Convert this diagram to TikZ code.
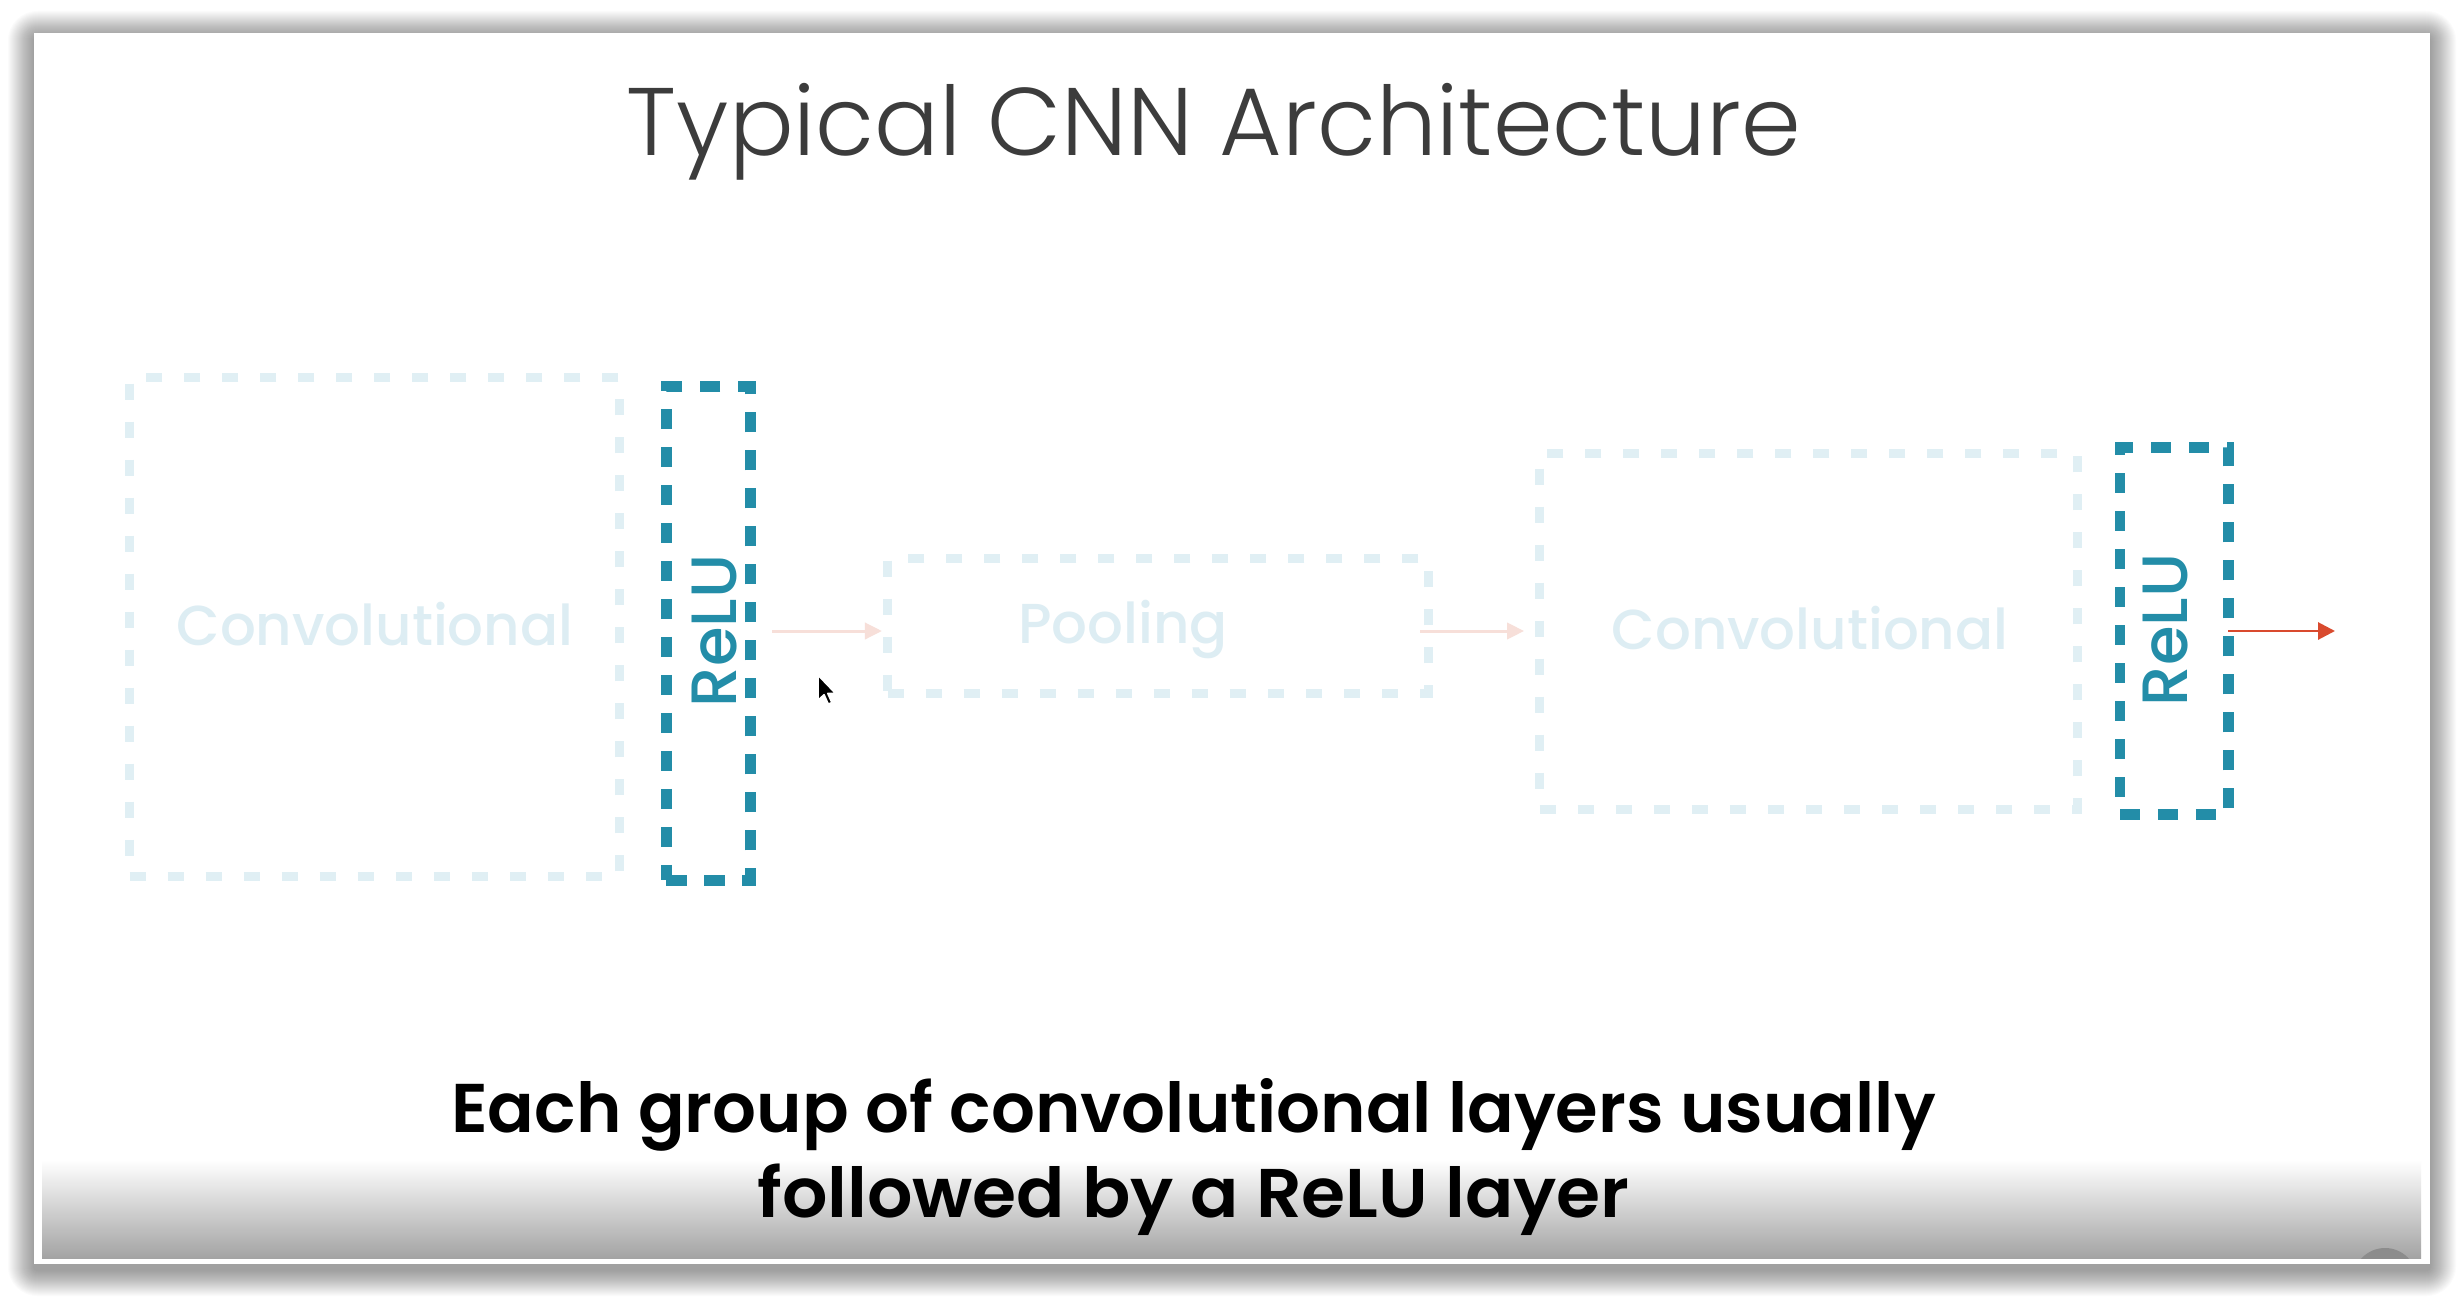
\documentclass[tikz,border=0pt]{standalone}
\usepackage{fontspec}
\setmainfont{Poppins}
\newfontfamily\titlefont{Poppins Light}
\newfontfamily\medfont{Poppins Medium}
\newfontfamily\boldfont{Poppins SemiBold}
\usetikzlibrary{arrows.meta}
\definecolor{tealc}{HTML}{238DA8}
\definecolor{pale}{HTML}{E0EFF4}
\definecolor{paletext}{HTML}{DDEDF3}
\definecolor{pinkarr}{HTML}{F7DFD9}
\definecolor{redarr}{HTML}{D94A2E}
\definecolor{titlegray}{HTML}{3C3C3C}
\tikzset{
  palebox/.style={draw=pale, line width=2.56pt, dash pattern=on 4.55pt off 6.26pt, inner sep=0pt, outer sep=0pt, rectangle},
  relubox/.style={draw=tealc, line width=3.1pt, dash pattern=on 5.7pt off 5.1pt, inner sep=0pt, outer sep=0pt, rectangle},
  paletxt/.style={text=paletext, font=\medfont\fontsize{16}{18}\selectfont, anchor=base, inner sep=0pt},
  relutxt/.style={text=tealc, font=\medfont\fontsize{18.2}{20}\selectfont, rotate=90, anchor=base, inner sep=0pt},
  lightarrow/.style={draw=pinkarr, line width=0.85pt, -{Triangle[length=4.8pt,width=4.6pt]}},
  redarrow/.style={draw=redarr, line width=0.8pt, -{Triangle[length=4.8pt,width=4.8pt]}},
  bottomtxt/.style={font=\boldfont\fontsize{19.6}{22}\selectfont, anchor=base, inner sep=0pt, text=black}
}
\begin{document}
\begin{tikzpicture}[x=0.01cm,y=-0.01cm]
\useasboundingbox (0,0) rectangle (2464,1300);
\fill[white] (0,0) rectangle (2464,1300);
% shadow around the slide
\foreach \i [evaluate=\i as \r using \i*0.2845+1] in {1,...,26}
  \fill[black, opacity=0.016, rounded corners=\r pt] (34-\i,37-\i) rectangle (2430+\i,1270+\i);
% slide
\fill[white] (34,33) rectangle (2430,1264);
% bottom gradient of the content
\shade[top color=white, bottom color=black!36] (42,1160) rectangle (2421,1258);
\begin{scope}
  \clip (42,1160) rectangle (2421,1258);
  \fill[black!45] (2385,1280) circle[radius=32];
\end{scope}

% title
\node[anchor=base, inner sep=0pt, text=titlegray, font=\titlefont\fontsize{27.3}{30}\selectfont] (title) at (1214,156) {Typical CNN Architecture};

% boxes
\node[palebox, minimum width=4.89cm, minimum height=4.98cm] (conv1) at (374.5,627) {};
\node[relubox, minimum width=0.84cm, minimum height=4.93cm] (relu1) at (708.5,633.5) {};
\node[palebox, minimum width=5.40cm, minimum height=1.34cm] (pool) at (1158,626) {};
\node[palebox, minimum width=5.37cm, minimum height=3.55cm] (conv2) at (1808.5,631.5) {};
\node[relubox, minimum width=1.08cm, minimum height=3.66cm] (relu2) at (2174,631) {};

% labels
\node[paletxt] (conv1txt) at (375,645) {Convolutional};
\node[paletxt] (pooltxt) at (1123,643) {Pooling};
\node[paletxt] (conv2txt) at (1810,649) {Convolutional};
\node[relutxt] (relu1txt) at (736,631) {ReLU};
\node[relutxt] (relu2txt) at (2187,630) {ReLU};

% connectors
\coordinate (out) at (2335,631);
\draw[lightarrow, shorten <=6.2pt, shorten >=1.7pt] (relu1.east |- 0,631) -- (pool.west |- 0,631);
\draw[lightarrow, shorten <=-2.3pt, shorten >=4.5pt] (pool.east |- 0,631) -- (conv2.west |- 0,631);
\draw[redarrow] (relu2.east |- 0,631) -- (out);

% mouse pointer
\begin{scope}[shift={(818,675)}, x=0.015cm, y=-0.015cm]
  \fill[black, draw=white, line width=0.5pt, line join=round] (0,0) -- (0,17) -- (4,13.2) -- (6.8,19.5) -- (9.3,18.4) -- (6.6,12.3) -- (11.8,12.3) -- cycle;
\end{scope}

% bottom text
\node[bottomtxt] (line1) at (1193.5,1132) {Each group of convolutional layers usually};
\node[bottomtxt, xscale=1.035] (line2) at (1193.5,1217) {followed by a ReLU layer};
\end{tikzpicture}
\end{document}
